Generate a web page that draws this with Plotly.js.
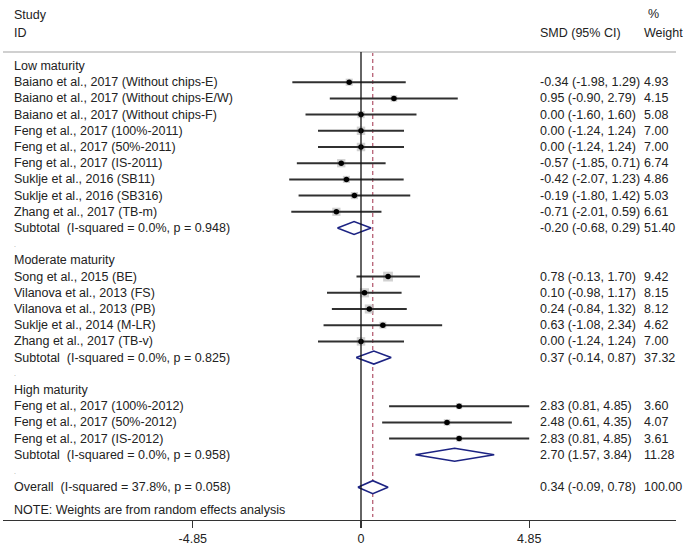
<!DOCTYPE html>
<html>
<head>
<meta charset="utf-8">
<script src="https://cdn.plot.ly/plotly-3.0.1.min.js"></script>
<style>html,body{margin:0;padding:0;background:#fff;}#chart{width:690px;height:548px;}</style>
</head>
<body>
<div id="chart"></div>
<script>
// ---- data ----
const groups = ["Low maturity", "Moderate maturity", "High maturity"];
const studyNames = [
  "Baiano et al., 2017 (Without chips-E)",
  "Baiano et al., 2017 (Without chips-E/W)",
  "Baiano et al., 2017 (Without chips-F)",
  "Feng et al., 2017 (100%-2011)",
  "Feng et al., 2017 (50%-2011)",
  "Feng et al., 2017 (IS-2011)",
  "Suklje et al., 2016 (SB11)",
  "Suklje et al., 2016 (SB316)",
  "Zhang et al., 2017 (TB-m)",
  "Song et al., 2015 (BE)",
  "Vilanova et al., 2013 (FS)",
  "Vilanova et al., 2013 (PB)",
  "Suklje et al., 2014 (M-LR)",
  "Zhang et al., 2017 (TB-v)",
  "Feng et al., 2017 (100%-2012)",
  "Feng et al., 2017 (50%-2012)",
  "Feng et al., 2017 (IS-2012)"
];
const studyGroup = [0,0,0,0,0,0,0,0,0, 1,1,1,1,1, 2,2,2];
const smd    = [-0.34, 0.95, 0.00, 0.00, 0.00, -0.57, -0.42, -0.19, -0.71, 0.78, 0.10, 0.24, 0.63, 0.00, 2.83, 2.48, 2.83];
const ciLow  = [-1.98, -0.90, -1.60, -1.24, -1.24, -1.85, -2.07, -1.80, -2.01, -0.13, -0.98, -0.84, -1.08, -1.24, 0.81, 0.61, 0.81];
const ciHigh = [1.29, 2.79, 1.60, 1.24, 1.24, 0.71, 1.23, 1.42, 0.59, 1.70, 1.17, 1.32, 2.34, 1.24, 4.85, 4.35, 4.85];
const weight = [4.93, 4.15, 5.08, 7.00, 7.00, 6.74, 4.86, 5.03, 6.61, 9.42, 8.15, 8.12, 4.62, 7.00, 3.60, 4.07, 3.61];

const subHet   = ["I-squared = 0.0%, p = 0.948", "I-squared = 0.0%, p = 0.825", "I-squared = 0.0%, p = 0.958"];
const subSmd   = [-0.20, 0.37, 2.70];
const subLow   = [-0.68, -0.14, 1.57];
const subHigh  = [0.29, 0.87, 3.84];
const subWeight = [51.40, 37.32, 11.28];

const overallHet = "I-squared = 37.8%, p = 0.058";
const overallSmd = 0.34, overallLow = -0.09, overallHigh = 0.78, overallWeight = 100.00;

const tickVals = [-4.85, 0, 4.85];
const tickText = ["-4.85", "0", "4.85"];
const note = "NOTE: Weights are from random effects analysis";

// ---- layout helpers ----
const W = 690, H = 548;
const mL = 3, mR = 14, mT = 0, mB = 28;
const plotW = W - mL - mR, plotH = H - mT - mB;
const pxPerUnit = 34.68, zeroPx = 361;
const xRange = [-(zeroPx - mL) / pxPerUnit, (W - mR - zeroPx) / pxPerUnit];
const row0Px = 66, rowStep = 16.2;
const yRange = [(plotH - row0Px) / rowStep, -row0Px / rowStep];
const pxToRow = p => (p - row0Px) / rowStep;
const pxToPaperX = p => (p - mL) / plotW;
const f2 = v => v.toFixed(2);

const FONT = "Liberation Sans, Arial, sans-serif";
const TXT = "#222";
const FS = 12.5;

// ---- build rows ----
const rows = []; // {label, type, idx}
groups.forEach((g, gi) => {
  rows.push({label: g, type: "group"});
  studyNames.forEach((s, si) => { if (studyGroup[si] === gi) rows.push({label: s, type: "study", idx: si}); });
  rows.push({label: "Subtotal\u00a0 (" + subHet[gi] + ")", type: "sub", idx: gi});
  rows.push({label: ".", type: "blank"});
});
rows.push({label: "Overall\u00a0 (" + overallHet + ")", type: "overall"});

const annotations = [];
const addText = (px, row, text, extra) => annotations.push(Object.assign({
  xref: "paper", yref: "y", x: pxToPaperX(px), y: row, text: text,
  xanchor: "left", yanchor: "middle", showarrow: false,
  font: {family: FONT, size: FS, color: TXT}
}, extra || {}));

// headers
addText(12, pxToRow(15), "Study");
addText(12, pxToRow(33), "ID");
addText(538, pxToRow(33), "SMD (95% CI)");
addText(646, pxToRow(14), "%");
addText(642, pxToRow(33), "Weight");

const ciX = [], ciY = [];
const sqX = [], sqY = [], sqS = [];
const traces = [];
const diamondHalf = 0.4;

rows.forEach((r, i) => {
  const lbl = r.type === "blank" ? "<span style='font-size:7px;color:#999'>.</span>" : r.label;
  addText(12, i, lbl);
  if (r.type === "study") {
    const k = r.idx;
    ciX.push(ciLow[k], ciHigh[k], null); ciY.push(i, i, null);
    sqX.push(smd[k]); sqY.push(i); sqS.push(3.2 * Math.sqrt(weight[k]));
    addText(538, i, f2(smd[k]) + " (" + f2(ciLow[k]) + ", " + f2(ciHigh[k]) + ")");
    addText(642, i, f2(weight[k]));
  } else if (r.type === "sub" || r.type === "overall") {
    const e = r.type === "sub" ? subSmd[r.idx] : overallSmd;
    const lo = r.type === "sub" ? subLow[r.idx] : overallLow;
    const hi = r.type === "sub" ? subHigh[r.idx] : overallHigh;
    const w = r.type === "sub" ? subWeight[r.idx] : overallWeight;
    traces.push({
      type: "scatter", mode: "lines", x: [lo, e, hi, e, lo],
      y: [i, i - diamondHalf, i, i + diamondHalf, i],
      fill: "toself", fillcolor: "#ffffff",
      line: {color: "#1c2383", width: 1.6}, hoverinfo: "skip", showlegend: false
    });
    addText(538, i, f2(e) + " (" + f2(lo) + ", " + f2(hi) + ")");
    addText(642, i, f2(w));
  }
});

addText(12, pxToRow(510), note);

const data = [
  {type: "scatter", mode: "markers", x: sqX, y: sqY,
   marker: {symbol: "square", size: sqS, color: "#bdbdbd", line: {width: 0}},
   hoverinfo: "skip", showlegend: false},
  {type: "scatter", mode: "lines", x: ciX, y: ciY, connectgaps: false,
   line: {color: "#303030", width: 2}, hoverinfo: "skip", showlegend: false},
  {type: "scatter", mode: "markers", x: sqX, y: sqY,
   marker: {symbol: "circle", size: 5.5, color: "#000"},
   hoverinfo: "skip", showlegend: false}
].concat(traces);

const headerRow = pxToRow(52);
const shapes = [
  {type: "line", xref: "paper", yref: "y", x0: 0, x1: 1, y0: headerRow, y1: headerRow,
   line: {color: "#d0d0d0", width: 2}},
  {type: "line", xref: "x", yref: "y", x0: 0, x1: 0, y0: headerRow, y1: yRange[0],
   line: {color: "#111", width: 1.3}},
  {type: "line", xref: "x", yref: "y", x0: overallSmd, x1: overallSmd, y0: headerRow, y1: pxToRow(517),
   line: {color: "#a0304a", width: 1, dash: "4px,3px"}, layer: "below"}
];

const layout = {
  width: W, height: H,
  margin: {l: mL, r: mR, t: mT, b: mB, pad: 0},
  paper_bgcolor: "#fff", plot_bgcolor: "#fff",
  showlegend: false,
  font: {family: FONT, size: FS, color: TXT},
  xaxis: {range: xRange, showgrid: false, zeroline: false, showline: true,
          linecolor: "#333", linewidth: 1.3, ticks: "outside", ticklen: 7, tickwidth: 1.3, tickcolor: "#333",
          tickvals: tickVals, ticktext: tickText, tickfont: {family: FONT, size: FS, color: TXT},
          fixedrange: true},
  yaxis: {range: yRange, visible: false, showgrid: false, zeroline: false, fixedrange: true},
  shapes: shapes,
  annotations: annotations
};

Plotly.newPlot("chart", data, layout, {displayModeBar: false, staticPlot: true});
</script>
</body>
</html>
